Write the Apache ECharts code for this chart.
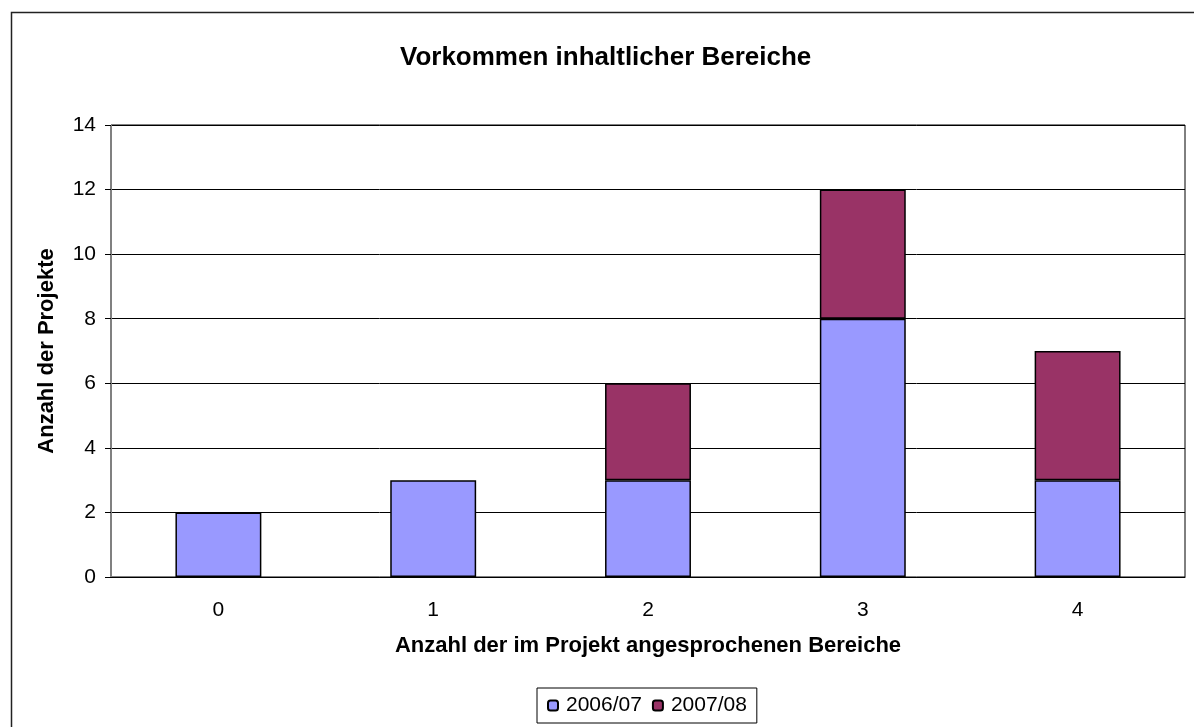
<!DOCTYPE html>
<html>
<head>
<meta charset="utf-8">
<script src="https://cdn.jsdelivr.net/npm/echarts@6/dist/echarts.min.js"></script>
<style>
  html, body { margin: 0; padding: 0; background: #fff; }
  #chart { width: 1194px; height: 727px; }
</style>
</head>
<body>
<div id="chart"></div>
<script>
// data
const categories = ['0', '1', '2', '3', '4']
const series0607 = [2, 3, 3, 8, 3]
const series0708 = [null, null, 3, 4, 4]
const seriesNames = ['2006/07', '2007/08']

const font = '"Liberation Sans", Arial, sans-serif'

const chart = echarts.init(document.getElementById('chart'))

chart.setOption({
  animation: false,
  backgroundColor: '#fff',
  textStyle: { fontFamily: font, color: '#000' },
  title: {
    text: 'Vorkommen inhaltlicher Bereiche',
    left: 395,
    top: 40,
    textStyle: { fontFamily: font, fontSize: 26, fontWeight: 'bold', color: '#000' }
  },
  graphic: [{
    type: 'rect',
    shape: { x: 11.5, y: 12.5, width: 1300, height: 900 },
    style: { fill: 'none', stroke: '#222', lineWidth: 1.5 },
    silent: true
  }],
  legend: {
    data: seriesNames,
    left: 537,
    top: 688,
    padding: [7, 10, 7, 10],
    itemWidth: 10,
    itemHeight: 10,
    itemGap: 10,
    borderColor: '#000',
    borderWidth: 1,
    textStyle: { fontFamily: font, fontSize: 21, color: '#000', padding: [0, 0, 0, 3] }
  },
  grid: {
    left: 111,
    right: 9,
    top: 125,
    bottom: 150,
    show: true,
    borderColor: '#000',
    borderWidth: 1
  },
  xAxis: {
    type: 'category',
    data: categories,
    name: 'Anzahl der im Projekt angesprochenen Bereiche',
    nameLocation: 'middle',
    nameGap: 58,
    nameTextStyle: { fontFamily: font, fontSize: 22, fontWeight: 'bold', color: '#000' },
    axisLine: { lineStyle: { color: '#000', width: 1 } },
    axisTick: { show: false },
    axisLabel: { fontFamily: font, fontSize: 21, color: '#000', margin: 23 }
  },
  yAxis: {
    type: 'value',
    min: 0,
    max: 14,
    interval: 2,
    name: 'Anzahl der Projekte',
    nameLocation: 'middle',
    nameGap: 53,
    nameTextStyle: { fontFamily: font, fontSize: 22, fontWeight: 'bold', color: '#000' },
    axisLine: { show: true, lineStyle: { color: '#808080', width: 1 } },
    axisTick: { show: true, length: 6, lineStyle: { color: '#000' } },
    axisLabel: { fontFamily: font, fontSize: 21, color: '#000', margin: 15 },
    splitLine: { show: true, lineStyle: { color: '#000', width: 1 } }
  },
  series: [{
    name: seriesNames[0],
    type: 'bar',
    stack: 'total',
    barWidth: '40%',
    data: series0607,
    itemStyle: { color: '#9999FF', borderColor: '#000', borderWidth: 1.5 }
  }, {
    name: seriesNames[1],
    type: 'bar',
    stack: 'total',
    barWidth: '40%',
    data: series0708,
    itemStyle: { color: '#993366', borderColor: '#000', borderWidth: 1.5 }
  }]
})
</script>
</body>
</html>
